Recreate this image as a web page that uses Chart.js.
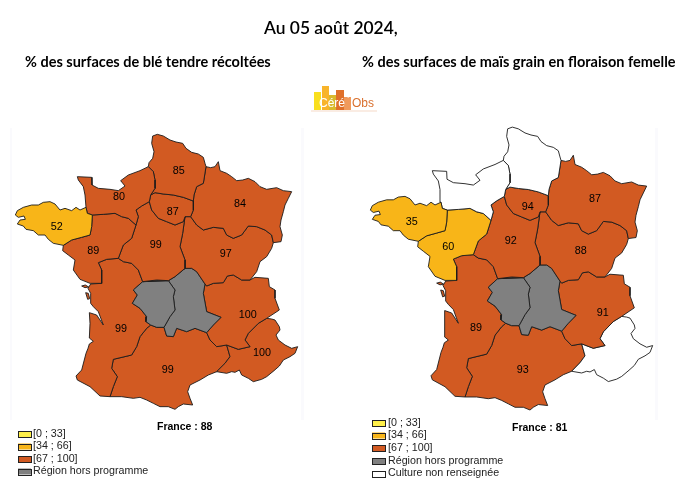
<!DOCTYPE html>
<html lang="fr"><head><meta charset="utf-8"><title>Céré'Obs</title>
<script src="https://cdn.jsdelivr.net/npm/chart.js@4"></script>
<style>html,body{margin:0;padding:0;background:#fff}canvas{display:block}</style>
</head><body><canvas id="c" width="698" height="487"></canvas>
<script>
// ---------- data ----------
const regionNames = ['Bretagne','Normandie','Hauts-de-France','Île-de-France','Grand Est','Pays de la Loire','Centre','Bourgogne-Franche-Comté','Limousin','Auvergne','Rhône-Alpes','PACA','Nouvelle-Aquitaine','Occitanie'];
const OUT = null, NR = 'nr';
const wheatValues = [52,80,85,87,84,89,99,97,OUT,OUT,100,100,99,99];
const maizeValues = [35,NR,NR,94,87,60,92,88,OUT,OUT,91,NR,89,93];
const labelX = [170,357,536,518,720,280,467,677,0,0,743,786,363,503];
const labelY = [320,232,153,275,252,393,376,403,0,0,585,698,628,750];
const classNames = ['[0 ; 33]','[34 ; 66]','[67 ; 100]','Région hors programme','Culture non renseignée'];
const classColors = ['#FFF04A','#F8B518','#D25A22','#808080','#FFFFFF'];
const mainTitle = 'Au 05 août 2024,';
const wheatTitle = '% des surfaces de blé tendre récoltées';
const maizeTitle = '% des surfaces de maïs grain en floraison femelle';
const wheatFrance = 'France : 88', maizeFrance = 'France : 81';

// shared borders of the regions, map units
const breNor=[[258,262],[262,280],[277,285]];
const brePdl=[[277,285],[275,320],[270,345],[245,352],[215,360],[190,376]];
const breCoast=[[190,376],[160,370],[145,358],[135,345],[115,345],[100,332],[78,328],[70,318],[52,312],[60,300],[76,298],[72,288],[55,292],[46,285],[52,272],[70,262],[95,255],[115,255],[130,247],[150,245],[165,252],[180,270],[195,265],[215,272],[228,262],[240,270],[258,262]];
const norCoast=[[258,262],[255,225],[250,200],[235,180],[232,170],[275,172],[276,195],[295,205],[330,208],[355,212],[375,198],[362,182],[385,165],[420,152],[445,140]];
const norHdf=[[445,140],[460,155],[465,180],[465,205],[452,225]];
const norIdf=[[452,225],[448,245]];
const norCen=[[448,245],[425,258],[408,270],[415,290],[408,315]];
const norPdl=[[408,315],[385,295],[365,290],[345,280],[310,283],[277,285]];
const hdfCoast=[[445,140],[447,128],[458,115],[462,95],[455,70],[458,48],[472,43],[490,48],[510,60],[528,66],[548,70],[558,85],[575,97],[595,102],[610,112],[615,130],[618,140]];
const hdfGe=[[618,140],[610,190],[590,200],[582,225],[580,243]];
const hdfIdf=[[580,243],[550,232],[520,225],[490,222],[465,218],[452,225]];
const geEast=[[618,140],[632,143],[645,140],[655,125],[660,152],[680,160],[695,170],[710,182],[728,180],[745,175],[765,185],[780,200],[800,208],[830,203],[850,212],[875,215],[865,235],[855,255],[850,275],[843,300],[840,320],[847,345],[843,365],[820,368]];
const geBfc=[[820,368],[815,345],[795,330],[770,320],[745,318],[725,345],[700,355],[680,345],[670,325],[640,322],[610,330],[590,315],[572,290]];
const geIdf=[[572,290],[580,270],[580,243]];
const idfBfc=[[555,290],[572,290]];
const idfCen=[[448,245],[455,270],[475,295],[500,305],[525,315],[550,305],[555,290]];
const cenBfc=[[555,290],[548,340],[540,380],[555,420],[555,445]];
const cenAuv=[[555,445],[525,470],[505,482]];
const cenLim=[[505,482],[470,480],[428,485]];
const cenNa=[[428,485],[415,450],[395,430],[370,425],[355,415]];
const cenPdl=[[355,415],[370,375],[395,355],[408,315]];
const pdlNa=[[355,415],[320,418],[295,428],[305,450],[305,490]];
const pdlCoast=[[305,490],[270,490],[240,478],[220,450],[225,420],[205,405],[188,392],[190,376]];
const bfcEast=[[820,368],[815,385],[800,410],[780,425],[770,455],[750,480]];
const bfcAra=[[750,480],[725,480],[700,465],[682,468],[670,488],[640,490],[620,498],[615,492]];
const bfcAuv=[[615,492],[590,455],[575,445],[555,445]];
const auvAra=[[615,492],[610,520],[620,575],[663,592],[640,615],[620,638]];
const auvOcc=[[620,638],[585,625],[560,635],[530,625],[520,650],[500,648],[492,622]];
const auvLim=[[492,622],[510,590],[525,570],[520,530],[525,510],[505,482]];
const limNa=[[428,485],[400,510],[412,525],[397,550],[420,565],[440,590],[438,605],[452,615]];
const limOcc=[[452,615],[470,622],[492,622]];
const araEast=[[750,480],[765,472],[805,475],[808,500],[825,510],[825,535],[838,570],[800,595]];
const araPaca=[[800,595],[775,610],[745,640],[735,660],[750,680],[715,688],[680,675]];
const araOcc=[[680,675],[650,680],[630,660],[620,638]];
const pacaCoast=[[800,595],[815,597],[825,600],[838,620],[840,630],[828,645],[835,660],[855,675],[875,685],[893,680],[885,700],[870,710],[850,720],[838,738],[822,752],[800,770],[785,778],[760,785],[745,775],[725,765],[718,750],[705,757],[695,755],[680,760],[650,755]];
const pacaOcc=[[650,755],[675,730],[690,710],[680,675]];
const occCoast=[[650,755],[625,765],[600,780],[570,795],[563,815],[570,835],[578,855],[550,852],[535,860],[525,868],[505,860],[480,860],[460,850],[440,840],[420,832],[400,835],[365,830],[330,830]];
const naOcc=[[452,615],[440,625],[420,650],[410,680],[395,705],[340,718],[335,745],[352,770],[340,800],[330,830]];
const naCoast=[[330,830],[300,828],[270,800],[232,780],[228,768],[245,750],[258,700],[264,685],[268,672],[280,664],[268,654],[270,610],[268,578],[290,585],[310,615],[295,575],[280,560],[272,550],[272,520],[264,505],[272,492],[305,490]];
const ileRe=[[245,498],[256,495],[266,501],[255,503],[245,498]];
const ileOleron=[[257,518],[265,520],[269,536],[263,538],[257,518]];

const rev=a=>a.slice().reverse();
const ring=(...arcs)=>arcs.flat();
const outlines=[
 [0,ring(breCoast,breNor,brePdl)],
 [1,ring(norCoast,norHdf,norIdf,norCen,norPdl,rev(breNor))],
 [2,ring(hdfCoast,hdfGe,hdfIdf,rev(norHdf))],
 [3,ring(rev(norIdf),rev(hdfIdf),rev(geIdf),rev(idfBfc),rev(idfCen))],
 [4,ring(geEast,geBfc,geIdf,rev(hdfGe))],
 [5,ring(rev(norPdl),rev(cenPdl),pdlNa,pdlCoast,rev(brePdl))],
 [6,ring(idfCen,cenBfc,cenAuv,cenLim,cenNa,cenPdl,rev(norCen))],
 [7,ring(idfBfc,rev(geBfc),bfcEast,bfcAra,bfcAuv,rev(cenBfc))],
 [8,ring(rev(cenLim),limNa,limOcc,auvLim)],
 [9,ring(rev(bfcAuv),auvAra,auvOcc,auvLim,cenAuv)],
 [10,ring(rev(bfcAra),araEast,araPaca,araOcc,rev(auvAra))],
 [11,ring(pacaCoast,pacaOcc,rev(araPaca))],
 [12,ring(rev(cenNa),limNa,naOcc,naCoast,rev(pdlNa))],
 [13,ring(limOcc,rev(auvOcc),rev(araOcc),rev(pacaOcc),occCoast,rev(naOcc))],
 [12,ileRe],[12,ileOleron]
];

// ---------- helpers ----------
function colorOf(v){
  if(v===OUT) return classColors[3];
  if(v===NR) return classColors[4];
  return v<=33?classColors[0]:v<=66?classColors[1]:classColors[2];
}
function datasets(values,xID,yID){
  return outlines.map(([r,pts])=>({
    label:regionNames[r], data:pts.map(p=>({x:p[0],y:p[1]})).concat([{x:pts[0][0],y:pts[0][1]}]),
    xAxisID:xID,yAxisID:yID,showLine:true,fill:'shape',pointRadius:0,borderWidth:0.9,
    borderColor:'#1c1c1c',backgroundColor:colorOf(values[r]),tension:0,clip:false,borderJoinStyle:'round'
  }));
}
const hidden=(min,max,rev)=>({type:'linear',display:false,min,max,reverse:!!rev});

const overlay={
  id:'overlay',
  beforeDraw(ch){
    const c=ch.ctx;c.save();c.fillStyle='#FAFAFD';
    c.fillRect(10,128,2,292);c.fillRect(301,128,3,292);c.fillRect(655,128,3,292);
    c.restore();
  },
  afterDraw(ch){
    const c=ch.ctx;c.save();c.textBaseline='middle';c.fillStyle='#000';
    // titles
    c.textAlign='left';c.font='600 17.4px Lato, "Open Sans", sans-serif';c.fillText(mainTitle,264,28.5);
    c.font='700 14.5px Lato, "Open Sans", sans-serif';
    c.fillText(wheatTitle,25,62);c.fillText(maizeTitle,362,62);
    // region values
    c.textAlign='center';c.fillStyle='#000';c.font='10.8px "Liberation Sans", Arial, sans-serif';
    wheatValues.forEach((v,i)=>{ if(typeof v==='number') c.fillText(v,ch.scales.xL.getPixelForValue(labelX[i]),ch.scales.yL.getPixelForValue(labelY[i])); });
    maizeValues.forEach((v,i)=>{ if(typeof v==='number') c.fillText(v,ch.scales.xR.getPixelForValue(labelX[i]),ch.scales.yR.getPixelForValue(labelY[i])); });
    // France totals
    c.textAlign='left';c.font='bold 10.5px "Liberation Sans", Arial, sans-serif';
    c.fillText(wheatFrance,157,427);c.fillText(maizeFrance,512,428);
    // legends
    const leg=(n,x,tx,ys)=>{ for(let i=0;i<n;i++){
      c.fillStyle=classColors[i];c.strokeStyle='#222';c.lineWidth=1;
      c.fillRect(x,ys[i]-3,13,6);c.strokeRect(x+.5,Math.round(ys[i]-3)+.5,13,6);
      c.fillStyle='#222';c.font='10.7px "Liberation Sans", Arial, sans-serif';c.fillText(classNames[i],tx,ys[i]);
    }};
    leg(4,18,33,[434,446.5,459,471.5]);
    leg(5,372,388,[423,435.5,448,461,473.5]);
    // logo
    [[314,92,7,'#F9DF1E'],[322,86,7,'#F8B42A'],[329,95,7,'#D9B92E'],[336,90,8,'#E0702A'],[344,97,7,'#F09A5C']].forEach(b=>{c.fillStyle=b[3];c.fillRect(b[0],b[1],b[2],110-b[1]);});
    c.fillStyle='#F6D9C8';c.fillRect(311,110.5,66,1);
    c.font='12px "Liberation Sans", Arial, sans-serif';c.fillStyle='#fff';c.fillText('Céré',319,104);
    c.fillStyle='#fff';c.fillText("'",347,101);
    c.fillStyle='#D9702E';c.fillText('Obs',352,104);
    c.restore();
  }
};

new Chart(document.getElementById('c'),{
  type:'scatter',
  data:{datasets:[...datasets(wheatValues,'xL','yL'),...datasets(maizeValues,'xR','yR')]},
  options:{
    responsive:false,animation:false,events:[],
    layout:{padding:0},
    plugins:{legend:{display:false},tooltip:{enabled:false},title:{display:false}},
    scales:{
      xL:hidden(0,2094),
      yL:hidden(-360,1101,true),
      xR:hidden(-1065,1029),
      yR:hidden(-327.7,1092.5,true)
    }
  },
  plugins:[overlay]
});
</script></body></html>
